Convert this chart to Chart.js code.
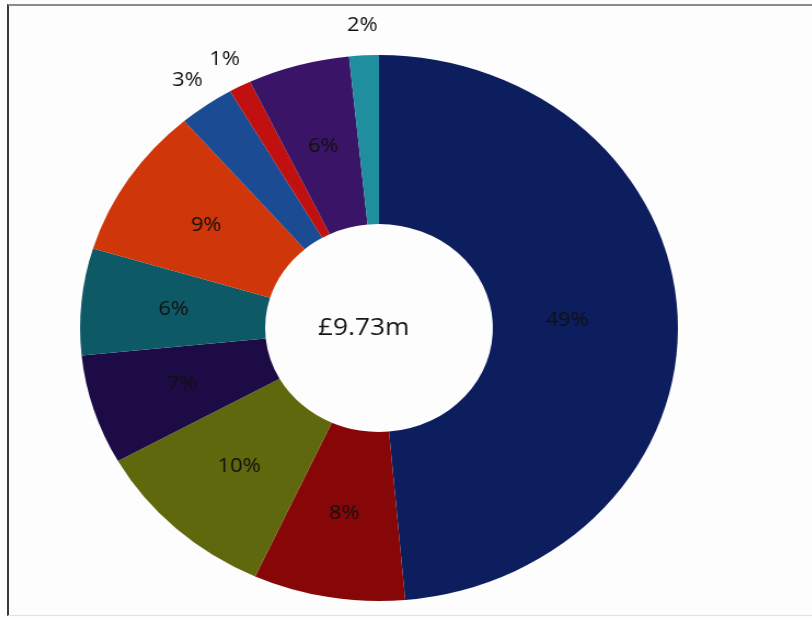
<!DOCTYPE html>
<html>
<head>
<meta charset="utf-8">
<script src="https://cdn.jsdelivr.net/npm/chart.js@4"></script>
<style>
  html, body { margin: 0; padding: 0; background: #fdfdfd; }
  #wrap { position: relative; width: 812px; height: 618px; overflow: hidden; }
  #frame {
    position: absolute; left: 7px; top: 4px; width: 805px; height: 609px;
    border-top: 2px solid #8c8c8c; border-left: 2px solid #3a3a3a; border-bottom: 1px solid #e2e2e2;
  }
  /* the scanned original is a little wider than tall */
  #chart-donut {
    position: absolute; left: 79px; top: 0;
    transform: scaleX(1.095); transform-origin: 300px 0;
  }
</style>
</head>
<body>
<div id="wrap">
  <div id="frame"></div>
  <canvas id="chart-donut" width="600" height="618"></canvas>
</div>
<script>
// share of the £9.73m total, read clockwise from 12 o'clock
const categories = ['Item 1', 'Item 2', 'Item 3', 'Item 4', 'Item 5', 'Item 6', 'Item 7', 'Item 8', 'Item 9', 'Item 10'];
const shares = [48.6, 8.2, 10.1, 6.5, 6.3, 9.0, 3.0, 1.2, 5.5, 1.6];
const sliceColors = ['#0d1e5f', '#870708', '#5f680c', '#1d0b46', '#0d5a66', '#cf3609', '#1b4b93', '#c0100f', '#3a1567', '#1f8e9e'];
const centreText = '£9.73m';

const sliceLabels = {
  id: 'sliceLabels',
  afterDatasetsDraw(chart) {
    const { ctx } = chart;
    const meta = chart.getDatasetMeta(0);
    const total = shares.reduce((a, b) => a + b, 0);
    ctx.save();
    ctx.textAlign = 'center';
    ctx.textBaseline = 'middle';
    ctx.font = '20px "Open Sans"';
    meta.data.forEach((arc, i) => {
      const { x, y, startAngle, endAngle, innerRadius, outerRadius } =
        arc.getProps(['x', 'y', 'startAngle', 'endAngle', 'innerRadius', 'outerRadius'], true);
      const mid = (startAngle + endAngle) / 2;
      const small = shares[i] < 4;
      // the big slice's label sits a little nearer the hole in the original
      const r = small ? outerRadius + 30 : (i === 0 ? innerRadius + 68 : (innerRadius + outerRadius) / 2);
      ctx.fillStyle = '#111111';
      ctx.fillText(`${Math.round(shares[i] / total * 100)}%`, x + Math.cos(mid) * r, y + Math.sin(mid) * r);
    });
    ctx.font = '24px "Open Sans"';
    ctx.fillStyle = '#151515';
    ctx.fillText(centreText, meta.data[0].x - 14, meta.data[0].y);
    ctx.restore();
  },
};

const ctx = document.getElementById('chart-donut').getContext('2d');
new Chart(ctx, {
  type: 'doughnut',
  data: {
    labels: categories,
    datasets: [{
      data: shares,
      backgroundColor: sliceColors,
      borderWidth: 0,
      hoverOffset: 0,
    }],
  },
  options: {
    responsive: false,
    animation: false,
    radius: 273,
    cutout: 104,
    layout: { padding: { top: 55, bottom: 17, left: 27, right: 27 } },
    plugins: {
      legend: { display: false },
      tooltip: { enabled: false },
    },
  },
  plugins: [sliceLabels],
});
</script>
</body>
</html>
